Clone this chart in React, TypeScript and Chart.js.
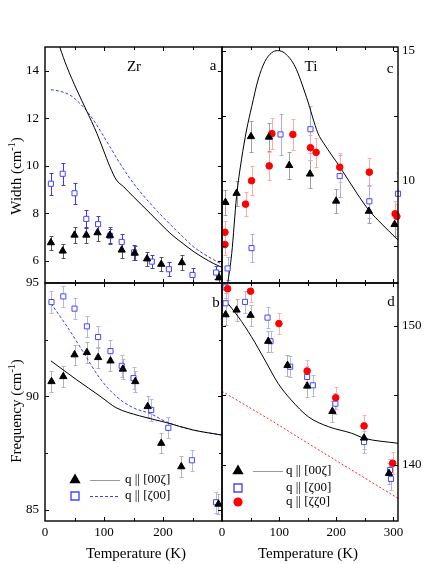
import React, { useEffect, useRef } from 'react';
import { Chart, registerables } from 'chart.js';

Chart.register(...registerables);

const FONT = "'Liberation Serif', 'Times New Roman', Times, serif";
const PAGE_W = 436;
const PAGE_H = 564;

// ---------------- Panel a : Zr width ----------------
const zrWidthT_00z = [10, 30, 50, 70, 89, 110, 130, 152, 173, 197, 232, 295];
const zrWidth_00z = [6.76, 6.41, 7.08, 7.08, 7.18, 7.07, 6.45, 6.32, 6.08, 5.85, 5.92, 5.28];
const zrWidthErr_00z = [0.3, 0.3, 0.35, 0.35, 0.35, 0.35, 0.32, 0.3, 0.3, 0.3, 0.3, 0.3];
const zrWidthT_z00 = [10, 30, 50, 70, 90, 110, 130, 151, 181, 210, 250, 290];
const zrWidth_z00 = [9.24, 9.66, 8.84, 7.76, 7.54, 7.05, 6.79, 6.35, 5.96, 5.64, 5.4, 5.5];
const zrWidthErr_z00 = [0.46, 0.46, 0.45, 0.39, 0.36, 0.3, 0.34, 0.32, 0.28, 0.3, 0.28, 0.28];
const zrWidthCalcT_00z = [20, 25, 37, 54, 70, 88, 99, 110, 121, 133, 150, 178, 206, 217, 234, 251, 268, 285, 300];
const zrWidthCalc_00z = [15.4, 15.0, 14.17, 13.19, 12.34, 11.36, 10.66, 9.96, 9.4, 9.12, 8.69, 8.0, 7.3, 7.05, 6.72, 6.4, 6.13, 5.89, 5.72];
const zrWidthCalcT_z00 = [10, 17, 42, 59, 76, 93, 110, 127, 150, 178, 206, 234, 251, 268, 285, 300];
const zrWidthCalc_z00 = [13.2, 13.18, 12.98, 12.63, 12.14, 11.5, 10.8, 10.1, 9.26, 8.42, 7.68, 7.0, 6.6, 6.3, 6.05, 5.85];

// ---------------- Panel b : Zr frequency ----------------
const zrFreqT_00z = [11, 31, 50, 71, 90, 111, 132, 153, 174, 197, 231, 294];
const zrFreq_00z = [90.66, 90.88, 91.84, 91.94, 91.72, 91.57, 91.21, 90.66, 89.56, 87.94, 86.91, 85.26];
const zrFreqErr_00z = [0.45, 0.45, 0.45, 0.45, 0.45, 0.45, 0.45, 0.45, 0.45, 0.45, 0.45, 0.45];
const zrFreqT_z00 = [11, 31, 50, 71, 90, 111, 130, 150, 180, 209, 249, 290];
const zrFreq_z00 = [94.16, 94.41, 93.87, 93.09, 92.62, 92.0, 91.35, 90.81, 89.41, 88.62, 87.19, 85.34];
const zrFreqErr_z00 = [0.47, 0.47, 0.47, 0.47, 0.47, 0.47, 0.47, 0.47, 0.47, 0.47, 0.47, 0.47];
const zrFreqCalcT_00z = [10, 54, 93, 121, 160, 206, 250, 300];
const zrFreqCalc_00z = [91.57, 90.73, 90.02, 89.5, 89.15, 88.85, 88.53, 88.3];
const zrFreqCalcT_z00 = [10, 37, 65, 93, 121, 150, 178, 206, 250, 300];
const zrFreqCalc_z00 = [94.1, 93.1, 91.95, 90.8, 90.0, 89.5, 89.25, 88.88, 88.53, 88.3];

// ---------------- Panel c : Ti width ----------------
const tiWidthT_00z = [6, 25.5, 50.7, 82, 117.6, 154, 199.7, 257, 302];
const tiWidth_00z = [9.17, 9.52, 11.7, 11.68, 10.59, 10.26, 9.22, 8.83, 8.32];
const tiWidthErr_00z = [0.48, 0.48, 0.59, 0.55, 0.53, 0.55, 0.46, 0.45, 0.45];
const tiWidthT_z00 = [9.8, 51.7, 102.4, 154.8, 206, 257.8, 308];
const tiWidth_z00 = [6.63, 7.41, 11.78, 11.98, 10.18, 9.21, 9.5];
const tiWidthErr_z00 = [0.45, 0.55, 0.8, 0.9, 0.8, 0.64, 0.8];
const tiWidthT_zz0 = [5.2, 5.2, 41.2, 51.7, 82.6, 87.3, 124, 154.8, 164.7, 206, 257.8, 303, 306];
const tiWidth_zz0 = [8.02, 7.55, 9.1, 10.0, 10.57, 11.81, 11.78, 11.27, 11.09, 10.52, 10.33, 8.73, 8.63];
const tiWidthErr_zz0 = [0.42, 0.42, 0.45, 0.55, 0.55, 0.6, 0.6, 0.48, 0.55, 0.55, 0.55, 0.48, 0.48];
const tiWidthCalcT = [10, 17, 25.5, 34, 43, 52, 63, 75, 87, 97, 110, 128, 148, 168, 178, 206, 236, 257, 280, 308];
const tiWidthCalc = [6.05, 7.2, 9.4, 10.8, 11.95, 12.85, 13.87, 14.58, 14.92, 15.0, 14.9, 14.38, 13.2, 11.82, 11.44, 10.54, 9.52, 8.87, 8.33, 7.72];

// ---------------- Panel d : Ti frequency ----------------
const tiFreqT_00z = [6.3, 25.5, 50, 80.9, 114.6, 149, 193.2, 248.6, 292.2];
const tiFreq_00z = [150.81, 151.15, 150.77, 148.9, 147.17, 145.68, 143.86, 141.94, 139.4];
const tiFreqErr_00z = [0.77, 0.77, 0.77, 0.77, 0.77, 0.77, 0.77, 0.77, 0.77];
const tiFreqT_z00 = [6.3, 6.3, 40.2, 79.7, 84.9, 119.3, 149, 159, 198.4, 248.6, 294, 295.7];
const tiFreq_z00 = [152.78, 151.63, 151.73, 150.6, 148.9, 147.07, 146.33, 145.73, 144.41, 141.65, 139.64, 139.0];
const tiFreqErr_z00 = [0.77, 0.77, 0.77, 0.77, 0.77, 0.77, 0.77, 0.77, 0.77, 0.77, 0.77, 0.77];
const tiFreqT_zz0 = [9.8, 50, 99.6, 149, 199, 248.6, 298.7];
const tiFreq_zz0 = [152.68, 152.5, 150.17, 146.76, 144.84, 142.81, 140.12];
const tiFreqErr_zz0 = [0.78, 0.78, 0.78, 0.78, 0.78, 0.78, 0.78];
const tiFreqCalcT = [6.3, 28.3, 51.5, 75, 98, 121, 151, 186, 227, 249, 308];
const tiFreqCalc = [151.82, 150.67, 149.23, 147.55, 145.88, 144.68, 143.47, 142.76, 142.28, 141.92, 141.56];
const tiFreqLinT = [0, 86, 139, 308];
const tiFreqLin = [145.3, 143.2, 141.85, 137.6];

// ---------------- axes ----------------
const xTickLabelsLeft = [0, 100, 200];
const xTickLabelsRight = [0, 100, 200, 300];
const xMajorTicks = [0, 100, 200, 300];
const xMinorTicks = [50, 150, 250];
const yLabelsA = [6, 8, 10, 12, 14];
const yLabelsB = [85, 90, 95];
const yLabelsC = [10, 15];
const yLabelsD = [140, 150];

const BLUE = '#4646ff';
const RED = '#ff0000';

const pts = (xs: number[], ys: number[]) => xs.map((x, i) => ({ x, y: ys[i] }));

function triangles(xs: number[], ys: number[], errs: number[], errColor: string) {
  return {
    data: pts(xs, ys), errors: errs, errColor,
    showLine: false, pointStyle: 'triangle', pointRadius: 4.2,
    backgroundColor: '#000', borderColor: '#000', borderWidth: 1, order: 1, clip: 4,
  };
}
function squares(xs: number[], ys: number[], errs: number[], errColor: string) {
  return {
    data: pts(xs, ys), errors: errs, errColor,
    showLine: false, pointStyle: 'rect', pointRadius: 3.6,
    backgroundColor: '#ffffff', borderColor: BLUE, borderWidth: 1, order: 3, clip: 4,
  };
}
function circles(xs: number[], ys: number[], errs: number[], errColor: string) {
  return {
    data: pts(xs, ys), errors: errs, errColor,
    showLine: false, pointStyle: 'circle', pointRadius: 3.3,
    backgroundColor: RED, borderColor: RED, borderWidth: 1, order: 2, clip: 4,
  };
}
function curve(xs: number[], ys: number[], color: string, dash: number[]) {
  return {
    data: pts(xs, ys), showLine: true, pointRadius: 0, borderColor: color,
    borderWidth: 1, borderDash: dash, cubicInterpolationMode: 'monotone',
    fill: false, order: 10, clip: 0,
  };
}

type Part = { t: string; size: number; dy?: number };
type TextItem = { parts: Part[]; x: number; y: number; rotate?: boolean; baseline?: CanvasTextBaseline };
type LegendItem = { marker: 'tri' | 'sq' | 'circ'; x: number; y: number; line?: { x1: number; x2: number; color: string; dash: number[] }; text: string; tx: number };

type Panel = {
  area: { l: number; t: number; r: number; b: number };
  xMin: number; xMax: number; yMin: number; yMax: number;
  xLabels: number[] | null;
  yLabels: number[];
  yPos: 'left' | 'right';
  yMajor: number[]; yMinor: number[];
  datasets: any[];
  texts: TextItem[];
  legend: LegendItem[];
};

const panels: Panel[] = [
  {
    area: { l: 45, t: 47, r: 222, b: 283 },
    xMin: 0, xMax: 300, yMin: 5.06, yMax: 15,
    xLabels: null, yLabels: yLabelsA, yPos: 'left',
    yMajor: [6, 8, 10, 12, 14], yMinor: [],
    datasets: [
      triangles(zrWidthT_00z, zrWidth_00z, zrWidthErr_00z, '#555555'),
      squares(zrWidthT_z00, zrWidth_z00, zrWidthErr_z00, '#3a3aee'),
      curve(zrWidthCalcT_00z, zrWidthCalc_00z, '#000000', []),
      curve(zrWidthCalcT_z00, zrWidthCalc_z00, '#3a3aff', [3, 2]),
    ],
    texts: [
      { parts: [{ t: 'Zr', size: 15 }], x: 134, y: 67 },
      { parts: [{ t: 'a', size: 15 }], x: 213, y: 66 },
      { parts: [{ t: 'Width (cm', size: 15 }, { t: '-1', size: 10, dy: -6 }, { t: ')', size: 15 }], x: 21, y: 176, rotate: true },
    ],
    legend: [],
  },
  {
    area: { l: 222, t: 47, r: 398, b: 283 },
    xMin: 0, xMax: 308, yMin: 6.07, yMax: 15.14,
    xLabels: null, yLabels: yLabelsC, yPos: 'right',
    yMajor: [7.5, 10, 12.5, 15], yMinor: [],
    datasets: [
      triangles(tiWidthT_00z, tiWidth_00z, tiWidthErr_00z, '#a0a0a0'),
      squares(tiWidthT_z00, tiWidth_z00, tiWidthErr_z00, '#a8a8ff'),
      circles(tiWidthT_zz0, tiWidth_zz0, tiWidthErr_zz0, '#ffaaaa'),
      curve(tiWidthCalcT, tiWidthCalc, '#000000', []),
    ],
    texts: [
      { parts: [{ t: 'Ti', size: 15 }], x: 311, y: 67 },
      { parts: [{ t: 'c', size: 15 }], x: 390, y: 69 },
    ],
    legend: [],
  },
  {
    area: { l: 45, t: 283, r: 222, b: 521 },
    xMin: 0, xMax: 300, yMin: 84.515, yMax: 95,
    xLabels: xTickLabelsLeft, yLabels: yLabelsB, yPos: 'left',
    yMajor: [85, 90, 95], yMinor: [87.5, 92.5],
    datasets: [
      triangles(zrFreqT_00z, zrFreq_00z, zrFreqErr_00z, '#b4b4b4'),
      squares(zrFreqT_z00, zrFreq_z00, zrFreqErr_z00, '#b4b4f4'),
      curve(zrFreqCalcT_00z, zrFreqCalc_00z, '#000000', []),
      curve(zrFreqCalcT_z00, zrFreqCalc_z00, '#3a3aff', [3, 2]),
    ],
    texts: [
      { parts: [{ t: 'b', size: 15 }], x: 216, y: 303 },
      { parts: [{ t: 'Frequency (cm', size: 15 }, { t: '-1', size: 10, dy: -6 }, { t: ')', size: 15 }], x: 21, y: 411, rotate: true },
      { parts: [{ t: 'Temperature (K)', size: 15 }], x: 136, y: 558, baseline: 'alphabetic' },
    ],
    legend: [
      { marker: 'tri', x: 75, y: 480, line: { x1: 90, x2: 120, color: '#999999', dash: [] }, text: 'q || [00ζ]', tx: 125 },
      { marker: 'sq', x: 75, y: 496, line: { x1: 90, x2: 120, color: '#3a3aff', dash: [3, 2] }, text: 'q || [ζ00]', tx: 125 },
    ],
  },
  {
    area: { l: 222, t: 283, r: 398, b: 521 },
    xMin: 0, xMax: 308, yMin: 135.97, yMax: 153.09,
    xLabels: xTickLabelsRight, yLabels: yLabelsD, yPos: 'right',
    yMajor: [140, 145, 150], yMinor: [],
    datasets: [
      triangles(tiFreqT_00z, tiFreq_00z, tiFreqErr_00z, '#b4b4b4'),
      squares(tiFreqT_z00, tiFreq_z00, tiFreqErr_z00, '#b4b4f4'),
      circles(tiFreqT_zz0, tiFreq_zz0, tiFreqErr_zz0, '#ffb0b0'),
      curve(tiFreqCalcT, tiFreqCalc, '#000000', []),
      curve(tiFreqLinT, tiFreqLin, '#ff2020', [2, 2]),
    ],
    texts: [
      { parts: [{ t: 'd', size: 15 }], x: 391, y: 302 },
      { parts: [{ t: 'Temperature (K)', size: 15 }], x: 308, y: 558, baseline: 'alphabetic' },
    ],
    legend: [
      { marker: 'tri', x: 238, y: 471, line: { x1: 253, x2: 283, color: '#999999', dash: [] }, text: 'q || [00ζ]', tx: 286 },
      { marker: 'sq', x: 238, y: 488, text: 'q || [ζ00]', tx: 286 },
      { marker: 'circ', x: 238, y: 502, text: 'q || [ζζ0]', tx: 286 },
    ],
  },
];

const errPlugin = {
  id: 'errbars',
  beforeDatasetsDraw(chart: any) {
    const { ctx, chartArea: a } = chart;
    const x = chart.scales.x, y = chart.scales.y;
    ctx.save();
    ctx.beginPath();
    ctx.rect(a.left, a.top, a.right - a.left, a.bottom - a.top);
    ctx.clip();
    ctx.lineWidth = 1;
    chart.data.datasets.forEach((ds: any) => {
      if (!ds.errors) return;
      ctx.strokeStyle = ds.errColor;
      ctx.beginPath();
      ds.data.forEach((p: any, i: number) => {
        const e = ds.errors[i];
        const px = Math.round(x.getPixelForValue(p.x)) + 0.5;
        const y1 = Math.round(y.getPixelForValue(p.y - e)) + 0.5;
        const y2 = Math.round(y.getPixelForValue(p.y + e)) + 0.5;
        ctx.moveTo(px, y1); ctx.lineTo(px, y2);
        ctx.moveTo(px - 2, y1); ctx.lineTo(px + 2, y1);
        ctx.moveTo(px - 2, y2); ctx.lineTo(px + 2, y2);
      });
      ctx.stroke();
    });
    ctx.restore();
  },
};

function framePlugin(p: Panel) {
  return {
    id: 'frame',
    afterDatasetsDraw(chart: any) {
      const { ctx, chartArea: a } = chart;
      const x = chart.scales.x, y = chart.scales.y;
      ctx.save();
      ctx.strokeStyle = '#000';
      ctx.lineWidth = 1;
      ctx.beginPath();
      const xt = (v: number, len: number) => {
        const px = Math.round(x.getPixelForValue(v)) + 0.5;
        if (px < a.left + 1 || px > a.right - 1) return;
        ctx.moveTo(px, a.bottom); ctx.lineTo(px, a.bottom - len);
        ctx.moveTo(px, a.top); ctx.lineTo(px, a.top + len);
      };
      const yt = (v: number, len: number) => {
        const py = Math.round(y.getPixelForValue(v)) + 0.5;
        if (py < a.top + 1 || py > a.bottom - 1) return;
        ctx.moveTo(a.left, py); ctx.lineTo(a.left + len, py);
        ctx.moveTo(a.right, py); ctx.lineTo(a.right - len, py);
      };
      xMajorTicks.forEach((v) => xt(v, 4));
      xMinorTicks.forEach((v) => xt(v, 3));
      p.yMajor.forEach((v) => yt(v, 4));
      p.yMinor.forEach((v) => yt(v, 3));
      ctx.stroke();
      ctx.lineWidth = 1.4;
      ctx.strokeRect(a.left, a.top, a.right - a.left, a.bottom - a.top);
      ctx.restore();
    },
  };
}

function drawParts(ctx: CanvasRenderingContext2D, item: TextItem) {
  ctx.save();
  ctx.fillStyle = '#000';
  let total = 0;
  const widths = item.parts.map((pt) => {
    ctx.font = `${pt.size}px ${FONT}`;
    const w = ctx.measureText(pt.t).width;
    total += w;
    return w;
  });
  ctx.translate(item.x, item.y);
  if (item.rotate) ctx.rotate(-Math.PI / 2);
  ctx.textAlign = 'left';
  ctx.textBaseline = item.rotate ? 'alphabetic' : (item.baseline || 'middle');
  let cx = -total / 2;
  item.parts.forEach((pt, i) => {
    ctx.font = `${pt.size}px ${FONT}`;
    ctx.fillText(pt.t, cx, pt.dy || 0);
    cx += widths[i];
  });
  ctx.restore();
}

function drawMarker(ctx: CanvasRenderingContext2D, kind: string, x: number, y: number) {
  ctx.save();
  ctx.beginPath();
  if (kind === 'tri') {
    const r = 6.5;
    ctx.moveTo(x, y - r);
    ctx.lineTo(x + r * Math.sin((2 * Math.PI) / 3), y - r * Math.cos((2 * Math.PI) / 3));
    ctx.lineTo(x + r * Math.sin((4 * Math.PI) / 3), y - r * Math.cos((4 * Math.PI) / 3));
    ctx.closePath();
    ctx.fillStyle = '#000';
    ctx.fill();
  } else if (kind === 'sq') {
    ctx.rect(x - 4, y - 4, 8, 8);
    ctx.strokeStyle = BLUE;
    ctx.lineWidth = 1.4;
    ctx.stroke();
  } else {
    ctx.arc(x, y, 4.6, 0, Math.PI * 2);
    ctx.fillStyle = RED;
    ctx.fill();
  }
  ctx.restore();
}

function textPlugin(p: Panel) {
  return {
    id: 'texts',
    afterDraw(chart: any) {
      const ctx: CanvasRenderingContext2D = chart.ctx;
      p.texts.forEach((t) => drawParts(ctx, t));
      p.legend.forEach((l) => {
        drawMarker(ctx, l.marker, l.x, l.y);
        if (l.line) {
          ctx.save();
          ctx.strokeStyle = l.line.color;
          ctx.lineWidth = 1;
          ctx.setLineDash(l.line.dash);
          ctx.beginPath();
          ctx.moveTo(l.line.x1, Math.round(l.y) + 0.5);
          ctx.lineTo(l.line.x2, Math.round(l.y) + 0.5);
          ctx.stroke();
          ctx.restore();
        }
        ctx.save();
        ctx.fillStyle = '#000';
        ctx.font = `13px ${FONT}`;
        ctx.textAlign = 'left';
        ctx.textBaseline = 'middle';
        ctx.fillText(l.text, l.tx, l.y);
        ctx.restore();
      });
    },
  };
}

function buildChart(canvas: HTMLCanvasElement, p: Panel) {
  const yW = p.yPos === 'left' ? p.area.l : PAGE_W - p.area.r;
  const xH = p.xLabels ? PAGE_H - p.area.b : 0;
  const padding = {
    left: p.yPos === 'left' ? 0 : p.area.l,
    right: p.yPos === 'left' ? PAGE_W - p.area.r : 0,
    top: p.area.t,
    bottom: p.xLabels ? 0 : PAGE_H - p.area.b,
  };
  const tickFont = { family: FONT, size: 13 };
  return new Chart(canvas, {
    type: 'scatter',
    data: { datasets: p.datasets },
    options: {
      responsive: false,
      maintainAspectRatio: false,
      animation: false,
      devicePixelRatio: 1,
      events: [],
      layout: { padding },
      plugins: { legend: { display: false }, tooltip: { enabled: false } },
      scales: {
        x: {
          type: 'linear', position: 'bottom', min: p.xMin, max: p.xMax,
          grid: { display: false, drawTicks: false },
          border: { display: false },
          ticks: { display: !!p.xLabels, padding: 4, color: '#000', font: tickFont, maxRotation: 0, autoSkip: false },
          afterBuildTicks: (s: any) => { s.ticks = (p.xLabels || xMajorTicks).map((v) => ({ value: v })); },
          afterFit: (s: any) => { s.height = xH; s.paddingLeft = 0; s.paddingRight = 0; },
        },
        y: {
          type: 'linear', position: p.yPos, min: p.yMin, max: p.yMax,
          grid: { display: false, drawTicks: false },
          border: { display: false },
          ticks: { padding: p.yPos === 'left' ? 6 : 4, color: '#000', font: tickFont, autoSkip: false },
          afterBuildTicks: (s: any) => { s.ticks = p.yLabels.map((v) => ({ value: v })); },
          afterFit: (s: any) => { s.width = yW; s.paddingTop = 0; s.paddingBottom = 0; },
        },
      },
    } as any,
    plugins: [errPlugin, framePlugin(p), textPlugin(p)],
  } as any);
}

export default function App() {
  const refs = [useRef<HTMLCanvasElement>(null), useRef<HTMLCanvasElement>(null), useRef<HTMLCanvasElement>(null), useRef<HTMLCanvasElement>(null)];
  useEffect(() => {
    const charts = panels.map((p, i) => buildChart(refs[i].current as HTMLCanvasElement, p));
    return () => charts.forEach((c) => c.destroy());
  }, []);
  return (
    <div style={{ position: 'fixed', left: 0, top: 0, width: PAGE_W, height: PAGE_H, background: '#fff' }}>
      {refs.map((r, i) => (
        <canvas
          key={i}
          ref={r}
          width={PAGE_W}
          height={PAGE_H}
          style={{ position: 'absolute', left: 0, top: 0, width: PAGE_W, height: PAGE_H }}
        />
      ))}
    </div>
  );
}
